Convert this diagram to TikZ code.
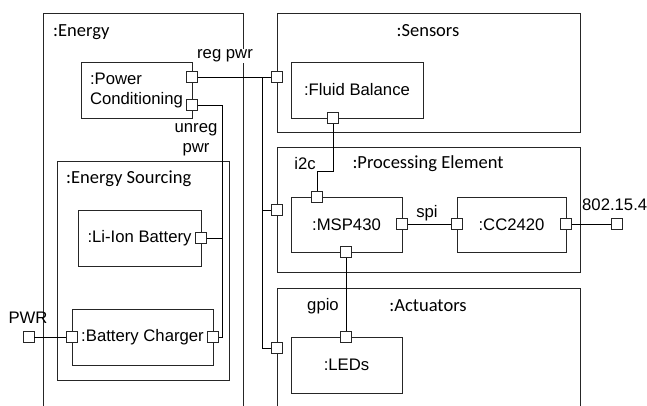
\documentclass[tikz,border=0pt]{standalone}
\usepackage{fontspec}
\setmainfont{Liberation Sans}
\newfontfamily\calfont{Carlito}
\newcommand\myar{\fontsize{16.7}{20}\selectfont}
\newcommand\mycal{\calfont\fontsize{18.5}{22}\selectfont}
\begin{document}
\begin{tikzpicture}[x=1pt,y=-1pt,
  cont/.style={draw=black!85, line width=1pt, inner sep=0pt},
  comp/.style={draw=black!85, line width=1pt, inner sep=0pt, font=\myar, align=center},
  port/.style={draw=black!85, fill=white, line width=0.9pt, minimum size=11pt, inner sep=0pt},
  wire/.style={draw=black, line width=0.9pt},
  albl/.style={font=\myar, inner sep=1pt},
  clbl/.style={font=\mycal, inner sep=1pt}]
\clip (0,0) rectangle (647,405);
\fill[white] (0,0) rectangle (647,405);
% containers
\node[cont, minimum width=200pt, minimum height=412pt] (energy) at (143,219) {};
\node[cont, minimum width=303pt, minimum height=119pt] (sensors) at (428.5,72.5) {};
\node[cont, minimum width=303pt, minimum height=125pt] (proc) at (428.5,209.5) {};
\node[cont, minimum width=303pt, minimum height=137pt] (act) at (428.5,356.5) {};
\node[cont, minimum width=172pt, minimum height=219pt] (sourcing) at (143,270.5) {};
% components
\node[comp, minimum width=111pt, minimum height=56pt, align=left] (pc) at (136.5,90) {:Power\\Conditioning};
\node[comp, minimum width=123pt, minimum height=56pt] (liion) at (139.5,238) {:Li-Ion Battery};
\node[comp, minimum width=141pt, minimum height=56pt] (charger) at (142.5,337) {:Battery Charger};
\node[comp, minimum width=132pt, minimum height=56pt] (fluid) at (357,90) {:Fluid Balance};
\node[comp, minimum width=111pt, minimum height=55pt] (msp) at (346.5,224.5) {:MSP430};
\node[comp, minimum width=109pt, minimum height=55pt] (cc) at (511.5,224.5) {:CC2420};
\node[comp, minimum width=111pt, minimum height=56pt] (leds) at (346.5,365) {:LEDs};
% container labels
\node[clbl, anchor=west] (energyL) at (52,32) {:Energy};
\node[clbl] (sensorsL) at (428,31) {:Sensors};
\node[clbl] (procL) at (428,164) {:Processing Element};
\node[clbl] (actL) at (428,306) {:Actuators};
\node[clbl, anchor=west] (sourcingL) at (65,179) {:Energy Sourcing};
% connector labels
\node[albl, fill=white] (regL) at (225,56) {reg pwr};
\node[albl, fill=white, align=center, inner sep=0.5pt] (unregL) at (196,140) {unreg\\pwr};
\node[albl] (i2cL) at (305,164) {i2c};
\node[albl] (spiL) at (427,213) {spi};
\node[albl] (gpioL) at (323,306) {gpio};
\node[albl, anchor=west] (wirelessL) at (581,205) {802.15.4};
\node[albl] (pwrL) at (28,318) {PWR};
% ports
\node[port] (pcreg) at (192,77) {};
\node[port] (pcunreg) at (192,105) {};
\node[port] (liP) at (201,238) {};
\node[port] (chL) at (72,337) {};
\node[port] (chR) at (213,337) {};
\node[port] (pwr) at (28.5,337) {};
\node[port] (sensP) at (277,77) {};
\node[port] (procP) at (277,210) {};
\node[port] (actP) at (277,348) {};
\node[port] (fluidP) at (333,118) {};
\node[port] (mspT) at (317,197) {};
\node[port] (mspR) at (402,224) {};
\node[port] (mspB) at (346,252) {};
\node[port] (ccL) at (457,224) {};
\node[port] (ccR) at (566,224) {};
\node[port] (ext) at (617,224) {};
\node[port] (ledT) at (346,337) {};
% bend points
\coordinate (busTop) at (262,77);
\coordinate (unregBot) at (222,337);
\coordinate (i2cBend) at (333,171);
% connectors
\draw[wire] (pcreg.east) -- (sensP.west);
\draw[wire] (busTop) |- (procP.west);
\draw[wire] (busTop) |- (actP.west);
\draw[wire] (pcunreg.east) -| (unregBot) -- (chR.east);
\draw[wire] (liP.east) -- (liP.east -| unregBot);
\draw[wire] (pwr.east) -- (chL.west);
\draw[wire] (fluidP.south) -- (i2cBend) -| (mspT.north);
\draw[wire] (mspR.east) -- (ccL.west);
\draw[wire] (ccR.east) -- (ext.west);
\draw[wire] (mspB.south) -- (ledT.north);
\end{tikzpicture}
\end{document}
